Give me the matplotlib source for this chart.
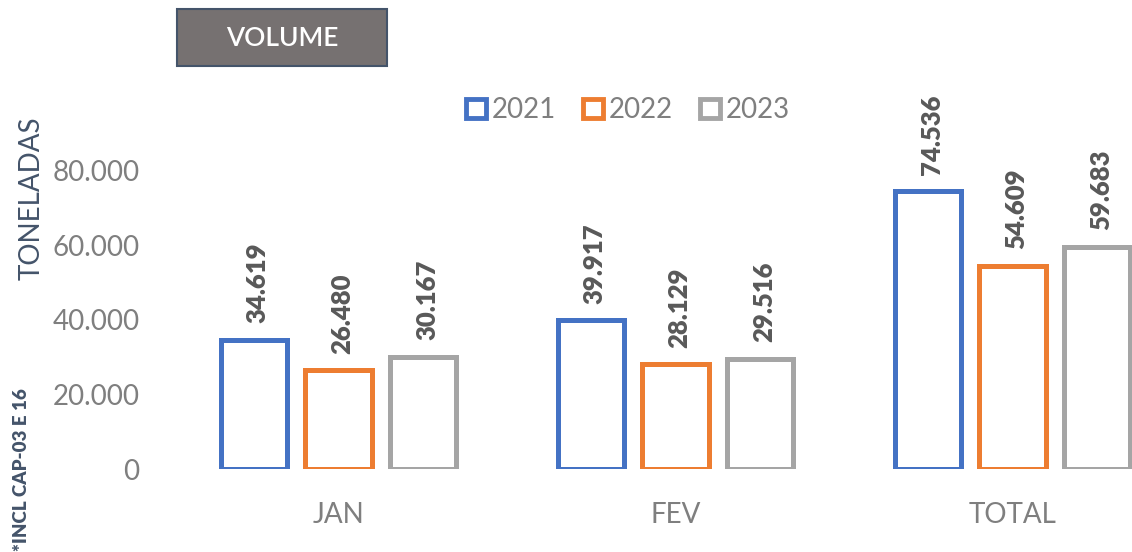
import matplotlib.pyplot as plt
import matplotlib.patches as mpatches
import numpy as np

categories = ["JAN", "FEV", "TOTAL"]
years = ["2021", "2022", "2023"]
v2021 = [34619, 39917, 74536]
v2022 = [26480, 28129, 54609]
v2023 = [30167, 29516, 59683]
colors = ["#4472C4", "#ED7D31", "#A5A5A5"]

plt.rcParams['font.family'] = ['Lato', 'DejaVu Sans']

W, H = 1132, 552
fig = plt.figure(figsize=(W / 100, H / 100), dpi=100)
# axes from x=170px to right edge, y from 96.5px to 469px
ax = fig.add_axes([170 / W, (H - 469) / H, (W - 170) / W, 372.5 / H])

x = np.arange(len(categories))
step = 0.252
width = 0.196
series = [v2021, v2022, v2023]
for i, vals in enumerate(series):
    pos = x + (i - 1) * step
    ax.bar(pos, vals, width, facecolor="white", edgecolor=colors[i], linewidth=3.6)
    for p, v in zip(pos, vals):
        ax.annotate(f"{v:,}".replace(",", "."), (p, v), xytext=(3, 12), textcoords="offset points",
                    rotation=90, ha="center", va="bottom", fontsize=18.5, fontweight="heavy",
                    color="#595959")

ax.set_xlim(-0.5, -0.5 + (W - 170) / 337)
ax.set_ylim(0, 100000)
ax.set_yticks([0, 20000, 40000, 60000, 80000])
ax.set_yticklabels(["0", "20.000", "40.000", "60.000", "80.000"])
ax.set_xticks(x)
ax.set_xticklabels(categories)
ax.tick_params(axis="both", length=0, labelsize=20, labelcolor="#7F7F7F")
ax.tick_params(axis="y", pad=22)
ax.tick_params(axis="x", pad=24)
for s in ax.spines.values():
    s.set_visible(False)

handles = [mpatches.Patch(facecolor="white", edgecolor=colors[i], linewidth=3.5, label=years[i])
           for i in range(3)]
fig.legend(handles=handles, loc="center", bbox_to_anchor=(628 / W, (H - 110) / H), ncol=3,
           frameon=False, fontsize=20, labelcolor="#7F7F7F", handlelength=0.7, handleheight=0.7,
           handletextpad=0.2, columnspacing=1.0)

fig.text(32 / W, (H - 198) / H, "TONELADAS", rotation=90, ha="center", va="center",
         fontsize=20, color="#44546A")
fig.text(22 / W, (H - 470) / H, "*INCL CAP-03 E 16", rotation=90, ha="center", va="center",
         fontsize=13.5, fontweight="heavy", color="#44546A")

box = mpatches.Rectangle((177 / W, (H - 66) / H), 210 / W, 57 / H, transform=fig.transFigure,
                         facecolor="#767171", edgecolor="#44546A", linewidth=1.5)
fig.patches.append(box)
fig.text(282 / W, (H - 38) / H, "VOLUME", ha="center", va="center", fontsize=19,
         fontweight="semibold", color="white")

fig.savefig("out.png", dpi=100)
